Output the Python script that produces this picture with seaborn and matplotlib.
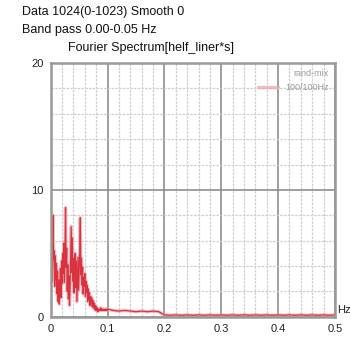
import numpy as np
import pandas as pd
import matplotlib
matplotlib.use("Agg")
import matplotlib.pyplot as plt
import seaborn as sns
from matplotlib.ticker import MultipleLocator

# ---- data ----
freq_low = np.round(np.arange(0, 0.1005, 0.001), 3)
amp_low = [5.5, 3.2, 6.0, 2.8, 8.0, 4.5, 5.2, 2.4, 4.8, 3.0, 4.2,
           1.8, 3.6, 1.2, 2.9, 1.0, 2.2, 3.8, 1.5, 4.4, 2.6,
           5.0, 3.4, 5.8, 2.7, 4.6, 8.6, 3.9, 5.4, 2.0, 4.1,
           1.4, 3.2, 0.9, 2.4, 5.0, 7.1, 3.5, 6.2, 2.8, 4.6,
           1.9, 3.8, 5.0, 2.3, 4.4, 1.2, 3.0, 4.7, 2.1, 3.6,
           5.2, 7.8, 3.3, 4.6, 2.5, 3.9, 1.8, 3.1, 2.4, 3.4,
           1.6, 2.8, 1.9, 2.5, 1.2, 2.2, 1.4, 1.9, 0.9, 1.6,
           1.1, 1.5, 0.8, 1.3, 0.7, 1.1, 0.6, 0.9, 0.5, 0.8,
           0.5, 0.7, 0.4, 0.6, 0.5, 0.6, 0.5, 0.7, 0.5, 0.6,
           0.5, 0.6, 0.5, 0.6, 0.5, 0.6, 0.5, 0.6, 0.5, 0.6]
freq_high = np.round(np.arange(0.11, 0.5005, 0.01), 2)
amp_high = [0.5, 0.45, 0.5, 0.45, 0.4, 0.45, 0.4, 0.45, 0.4,
            0.15, 0.12, 0.15, 0.12, 0.15, 0.12, 0.15, 0.12, 0.15, 0.12,
            0.15, 0.12, 0.15, 0.12, 0.15, 0.12, 0.15, 0.12, 0.15, 0.12,
            0.15, 0.12, 0.15, 0.12, 0.15, 0.12, 0.15, 0.12, 0.15, 0.12, 0.15]

x_ticks = [0, 0.1, 0.2, 0.3, 0.4, 0.5]
x_labels = ["0", "0.1", "0.2", "0.3", "0.4", "0.5"]
y_ticks = [0, 10, 20]
y_labels = ["0", "10", "20"]

df = pd.DataFrame({"freq": np.concatenate([freq_low, freq_high]),
                   "amp": np.concatenate([amp_low, amp_high])})

sns.set_style("white")
plt.rcParams["font.family"] = ["Liberation Sans", "DejaVu Sans"]

fig = plt.figure(figsize=(3.5, 3.37), dpi=100)
ax = fig.add_axes([0.145, 0.06, 0.812, 0.753])

# grid
ax.xaxis.set_major_locator(MultipleLocator(0.1))
ax.xaxis.set_minor_locator(MultipleLocator(0.02))
ax.yaxis.set_major_locator(MultipleLocator(10))
ax.yaxis.set_minor_locator(MultipleLocator(2))
ax.grid(which="minor", color="#cfcfcf", lw=0.9, ls=(0, (2, 1)))
ax.grid(which="major", color="#8f8f8f", lw=1.2)
ax.set_axisbelow(True)

sns.lineplot(data=df, x="freq", y="amp", ax=ax, color="#f4a3ab", lw=2.4,
             alpha=0.75, label="100/100Hz")
sns.lineplot(data=df, x="freq", y="amp", ax=ax, color="#d8333f", lw=0.9,
             legend=False)

ax.set_xlim(0, 0.5)
ax.set_ylim(0, 20)
ax.set_xticks(x_ticks)
ax.set_xticklabels(x_labels)
ax.set_yticks(y_ticks)
ax.set_yticklabels(y_labels)
ax.tick_params(axis="both", which="both", length=0, labelsize=8, pad=5,
               colors="#222222")
ax.set_xlabel("")
ax.set_ylabel("")
for s in ax.spines.values():
    s.set_color("#999999")
    s.set_linewidth(1.8)

leg = ax.legend(title="rand-mix", loc="upper right", frameon=False,
                fontsize=6.5, title_fontsize=6.5, handlelength=2.2,
                borderaxespad=0.3, alignment="right")
for t in leg.get_texts():
    t.set_color("#9a9a9a")
leg.get_title().set_color("#9a9a9a")

fig.text(0.063, 0.963, "Data 1024(0-1023) Smooth 0", fontsize=9,
         va="center", ha="left", color="#111111")
fig.text(0.063, 0.91, "Band pass 0.00-0.05 Hz", fontsize=9,
         va="center", ha="left", color="#111111")
fig.text(0.195, 0.858, "Fourier Spectrum[helf_liner*s]", fontsize=9,
         va="center", ha="left", color="#111111")
fig.text(0.963, 0.08, "Hz", fontsize=8, va="center", ha="left",
         color="#222222")

fig.savefig("out.png", dpi=100)
